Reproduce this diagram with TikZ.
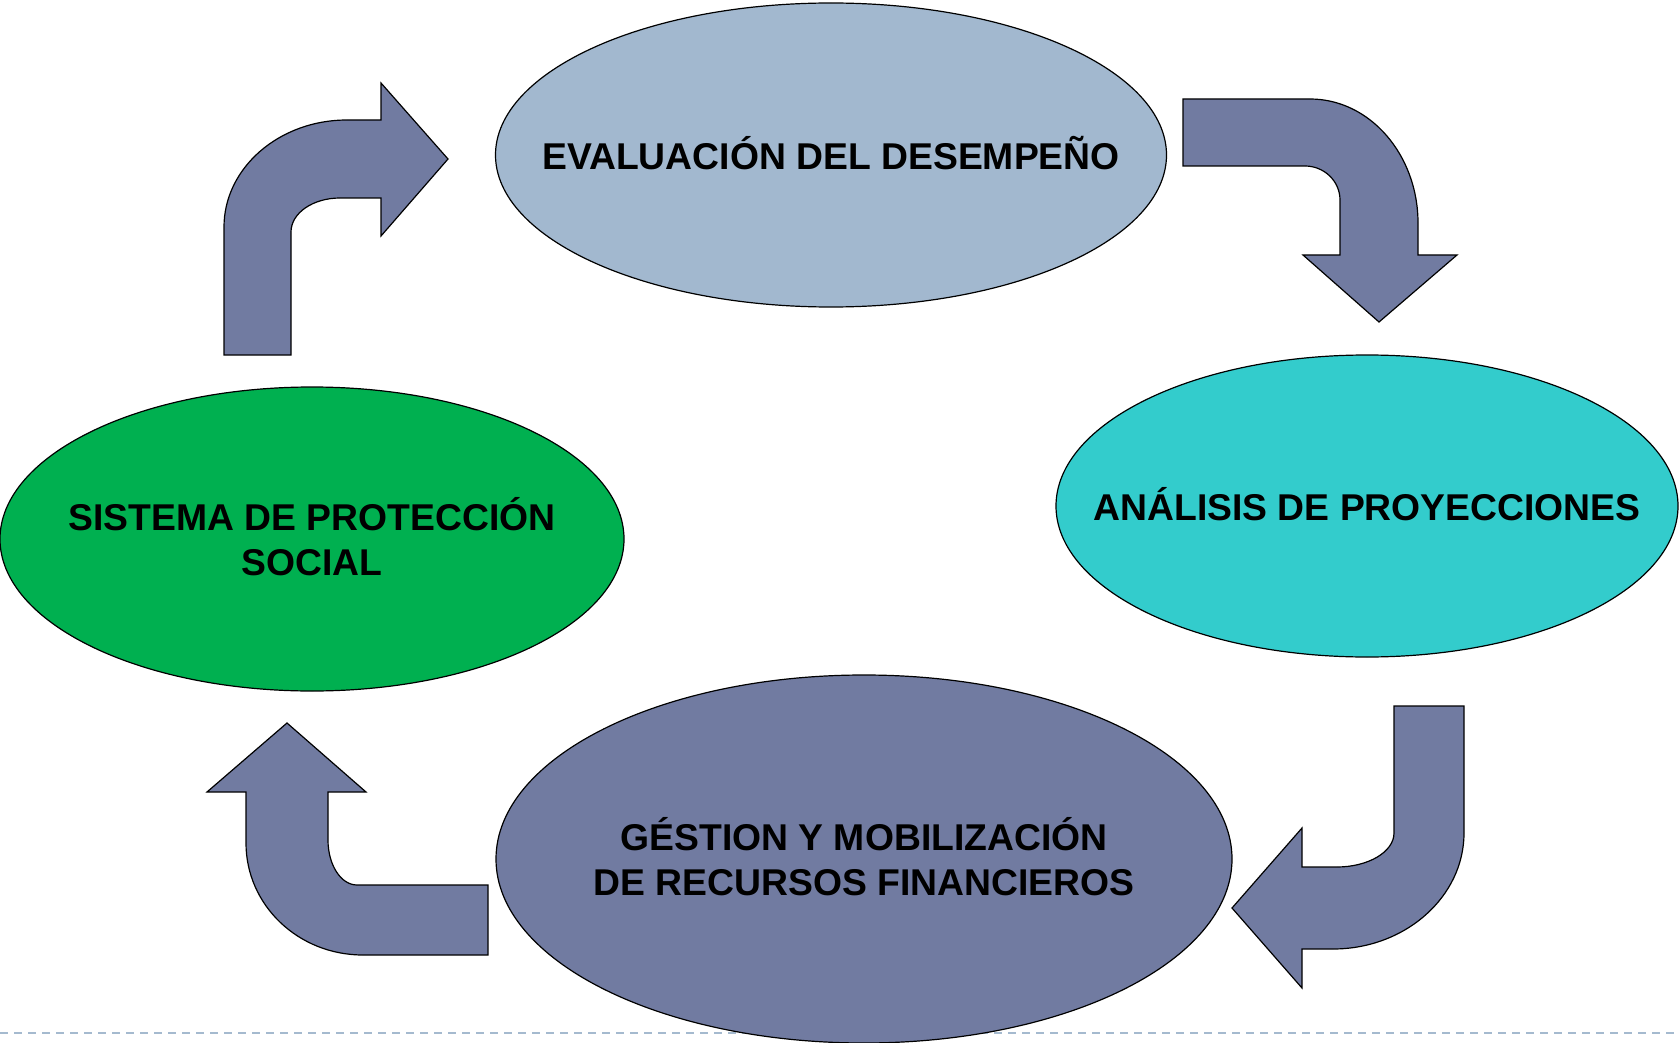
\documentclass[tikz,border=0pt]{standalone}
\usepackage{fontspec}
\setmainfont{Liberation Sans}
\usepackage{xcolor}
\usepackage{tikz}
\usetikzlibrary{shapes.geometric}
\usetikzlibrary{positioning}
\definecolor{evalblue}{HTML}{A2B8CF}
\definecolor{anacyan}{HTML}{33CCCC}
\definecolor{gestblue}{HTML}{717BA1}
\definecolor{sisgreen}{HTML}{00B050}
\definecolor{rulegray}{HTML}{A5BACF}
\tikzset{ell/.style ={draw, ellipse, inner sep=0pt, line width=1.2pt}}
\tikzset{lbl/.style ={font=\bfseries\fontsize{37.3}{45}\selectfont, align=center, yshift=2pt}}
\tikzset{bentarrow/.style ={draw, fill=gestblue, line width=1.2pt, line join=miter}}

\begin{document}
\begin{tikzpicture}[x=1pt,y=-1pt]
\useasboundingbox (0,0) rectangle (1679,1043);
\draw[rulegray, line width=2pt, dash pattern=on 8pt off 6pt] (0,1033) -- (1679,1033);
% ellipses
\node[ell, fill=evalblue, minimum width=671pt, minimum height=304pt] (eval) at (831,155) {};
\node[ell, fill=anacyan, minimum width=622pt, minimum height=302pt] (ana) at (1367,506) {};
\node[ell, fill=gestblue, minimum width=736pt, minimum height=368pt] (gest) at (864,859) {};
\node[ell, fill=sisgreen, minimum width=624pt, minimum height=304pt] (sis) at (312,539) {};
\node[lbl] (evaltxt) at (eval) {EVALUACIÓN DEL DESEMPEÑO};
\node[lbl] (anatxt) at (ana) {ANÁLISIS DE PROYECCIONES};
\node[lbl] (gesttxt) at (gest) {GÉSTION Y MOBILIZACIÓN\\DE RECURSOS FINANCIEROS};
\node[lbl] (sistxt) at (sis) {SISTEMA DE PROTECCIÓN\\SOCIAL};
% bent arrows
\draw[bentarrow] (224,355) -- (224,227) .. controls (224,168) and (279,120) .. (347,120)
  -- (381,120) -- (381,83) -- (448,159) -- (381,236) -- (381,198) -- (340,198)
  .. controls (313,198) and (291,213) .. (291,232) -- (291,355) -- cycle;
\draw[bentarrow] (1183,99) -- (1310,99) .. controls (1370,99) and (1418,155) .. (1418,223)
  -- (1418,255) -- (1457,255) -- (1379,322) -- (1303,255) -- (1340,255) -- (1340,200)
  .. controls (1340,181) and (1324,166) .. (1305,166) -- (1183,166) -- cycle;
\draw[bentarrow] (1394,706) -- (1464,706) -- (1464,833) .. controls (1464,897) and (1405,949) .. (1333,949)
  -- (1302,949) -- (1302,988) -- (1232,908) -- (1302,828) -- (1302,867) -- (1337,867)
  .. controls (1368,867) and (1394,852) .. (1394,833) -- cycle;
\draw[bentarrow] (488,885) -- (488,955) -- (363,955) .. controls (298,955) and (246,905) .. (246,843)
  -- (246,792) -- (207,792) -- (287,723) -- (366,792) -- (328,792) -- (328,840)
  .. controls (328,865) and (341,885) .. (357,885) -- cycle;
\end{tikzpicture}
\end{document}
